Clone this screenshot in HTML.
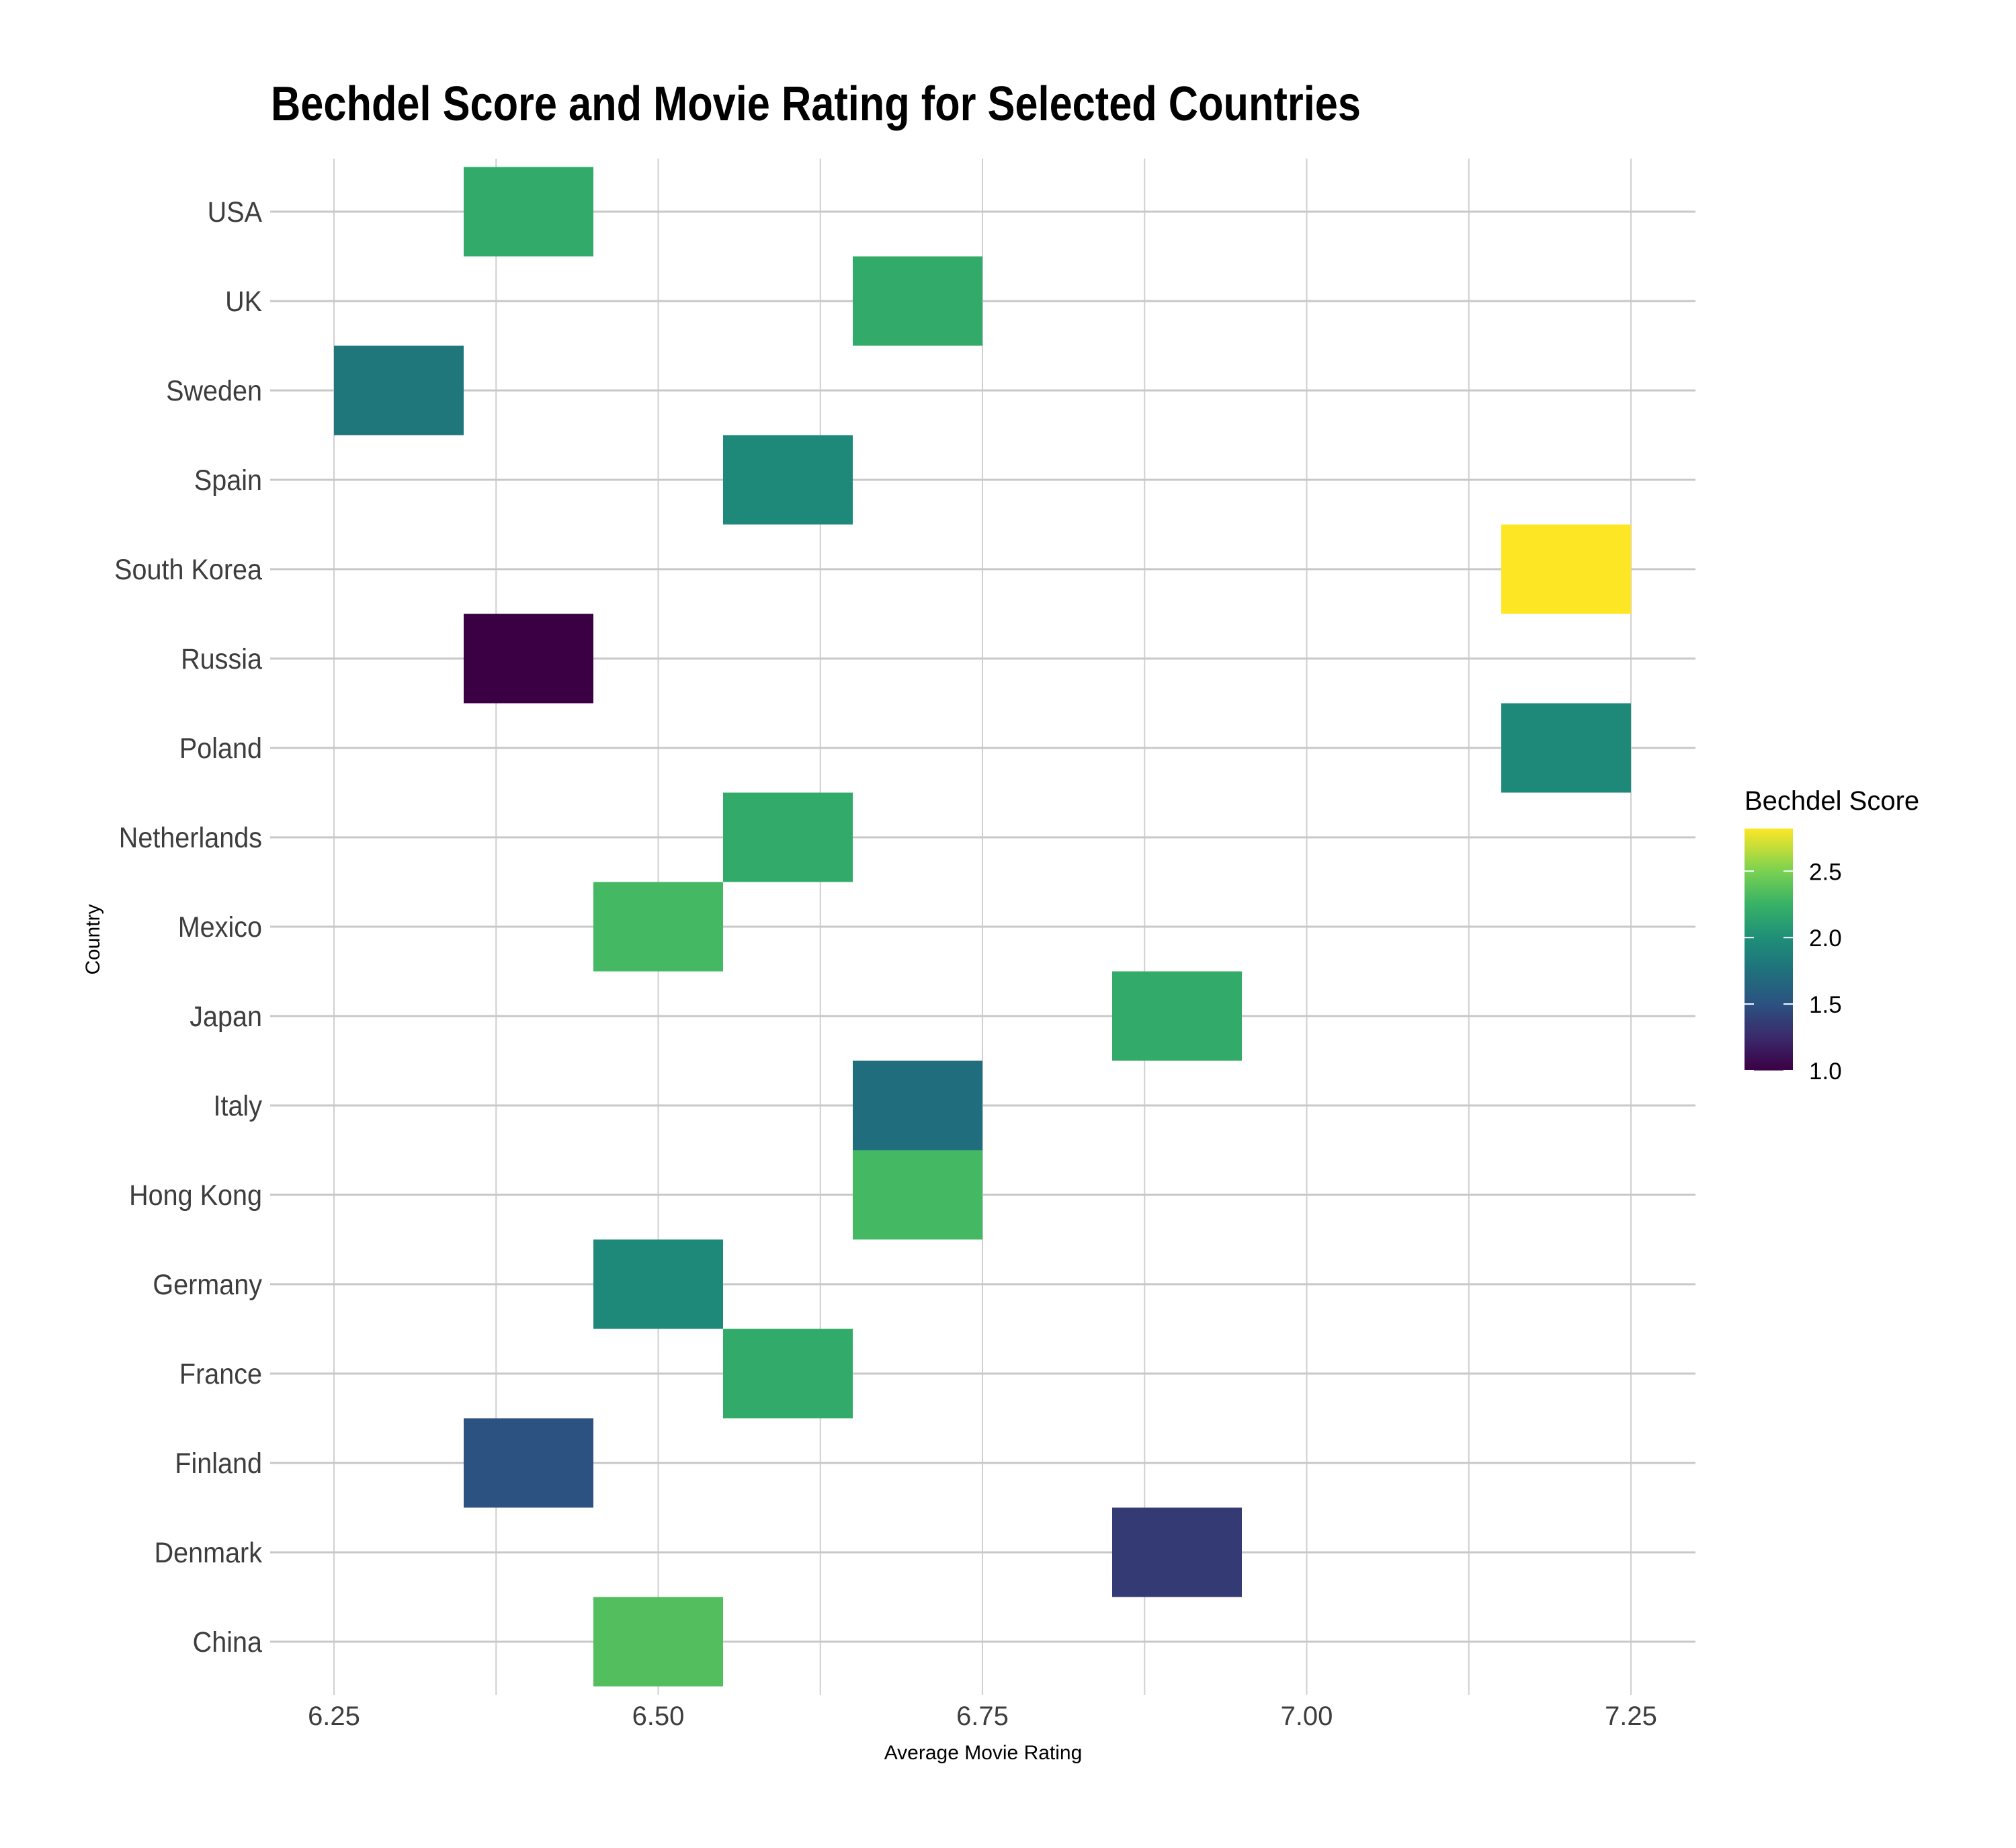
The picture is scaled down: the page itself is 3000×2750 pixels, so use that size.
<!DOCTYPE html>
<html><head><meta charset="utf-8"><style>
html,body{margin:0;padding:0;background:#fff;}
svg{display:block;font-family:"Liberation Sans",Arial,sans-serif;}
</style></head><body>
<svg id="chart" width="3000" height="2750" viewBox="0 0 3000 2750">
<rect x="0" y="0" width="3000" height="2750" fill="#fff"/>
<text x="403" y="179" font-size="72" font-weight="bold" fill="#000" textLength="1622" lengthAdjust="spacingAndGlyphs">Bechdel Score and Movie Rating for Selected Countries</text>
<g id="grid"></g>
<g id="tiles"></g>
<g id="yticks"></g>
<g id="xticks"></g>
<text x="1463" y="2618" font-size="30" text-anchor="middle" fill="#000">Average Movie Rating</text>
<text transform="translate(148,1398) rotate(-90)" font-size="30" text-anchor="middle" fill="#000">Country</text>
<g id="legend">
<text x="2596" y="1205" font-size="40" fill="#000">Bechdel Score</text>
<defs><linearGradient id="vg" x1="0" y1="1" x2="0" y2="0"></linearGradient></defs>
<rect id="cbar" x="2596" y="1233" width="72" height="360" fill="url(#vg)"/>
<g id="lticks"></g>
</g>
</svg>
<script>
const countries = ["China","Denmark","Finland","France","Germany","Hong Kong","Italy","Japan","Mexico","Netherlands","Poland","Russia","South Korea","Spain","Sweden","UK","USA"];
const ratings = [6.5,6.9,6.4,6.6,6.5,6.7,6.7,6.9,6.5,6.6,7.2,6.4,7.2,6.6,6.3,6.7,6.4];
const scores = [2.35,1.35,1.5,2.2,1.95,2.3,1.72,2.2,2.3,2.2,1.95,1.0,2.82,1.95,1.8,2.2,2.2];
const xTicks = [6.25,6.5,6.75,7.0,7.25];
const xTickLabels = ["6.25","6.50","6.75","7.00","7.25"];
const legendTicks = [1.0,1.5,2.0,2.5];
const legendTickLabels = ["1.0","1.5","2.0","2.5"];

const NS="http://www.w3.org/2000/svg";
const PL=402, PR=2523, PT=236, PB=2522;
const X0=497, XS=1930;
const x = v => X0 + (v-6.25)*XS;
const rowH = 133;
const yC = i => 2443 - i*rowH;
const sMin=1.0, sMax=Math.max(...scores);
const stops=[[1.0,"#3b0044"],[1.25,"#3a2a6c"],[1.5,"#2b5281"],[1.75,"#1f717c"],[2.0,"#1f8f78"],[2.25,"#37b266"],[2.5,"#7ad151"],[2.82,"#fde725"]];
function hex(h){return [1,3,5].map(i=>parseInt(h.substr(i,2),16));}
function color(s){
  if(s<=stops[0][0]) return stops[0][1];
  for(let i=1;i<stops.length;i++){
    if(s<=stops[i][0]){
      const [a,ca]=stops[i-1],[b,cb]=stops[i];
      const t=(s-a)/(b-a), A=hex(ca), B=hex(cb);
      return "rgb("+A.map((v,k)=>Math.round(v+(B[k]-v)*t)).join(",")+")";
    }
  }
  return stops[stops.length-1][1];
}
function mk(tag,attrs,parent){const e=document.createElementNS(NS,tag);for(const k in attrs)e.setAttribute(k,attrs[k]);parent.appendChild(e);return e;}

const grid=document.getElementById("grid");
for(let v=6.25; v<=7.25+1e-9; v+=0.125){
  const l=mk("line",{x1:x(v),x2:x(v),y1:PT,y2:PB,stroke:"#cfcfcf","stroke-width":2},grid);
  
  
}
countries.forEach((c,i)=>{
  const l=mk("line",{x1:PL,x2:PR,y1:yC(i),y2:yC(i),stroke:"#c8c8c8","stroke-width":3},grid);
  
  
});

const tiles=document.getElementById("tiles");
countries.forEach((c,i)=>{
  const r=mk("rect",{x:x(ratings[i]-0.05),y:yC(i)-rowH/2,width:XS*0.1,height:rowH,fill:color(scores[i])},tiles);
  
  
});

const yt=document.getElementById("yticks");
countries.forEach((c,i)=>{
  const t=mk("text",{x:0,y:0,"font-size":43,"text-anchor":"end",fill:"#3d3d3d",transform:"translate(390,"+(yC(i)+15)+") scale(0.92,1)"},yt);
  t.textContent=c;
  
  
});
const xt=document.getElementById("xticks");
xTicks.forEach((v,i)=>{
  const t=mk("text",{x:x(v),y:2567,"font-size":40,"text-anchor":"middle",fill:"#3d3d3d"},xt);
  t.textContent=xTickLabels[i];
  
  
});

const grad=document.getElementById("vg");
stops.forEach(s=>{
  if(s[0]>sMax) return;
  mk("stop",{offset:((s[0]-sMin)/(sMax-sMin)),"stop-color":s[1]},grad);
});
const CB_T=1233, CB_B=1593;
const ly = v => CB_B - (v-sMin)/(sMax-sMin)*(CB_B-CB_T);
const lt=document.getElementById("lticks");
legendTicks.forEach((v,i)=>{
  const a=mk("line",{x1:2596,x2:2610,y1:ly(v),y2:ly(v),stroke:"#fff","stroke-width":2},lt);
  
  
  const b=mk("line",{x1:2654,x2:2668,y1:ly(v),y2:ly(v),stroke:"#fff","stroke-width":2},lt);
  
  
  const t=mk("text",{x:2692,y:ly(v)+13,"font-size":35,fill:"#000"},lt);
  t.textContent=legendTickLabels[i];
  
  
});
</script>
</body></html>
